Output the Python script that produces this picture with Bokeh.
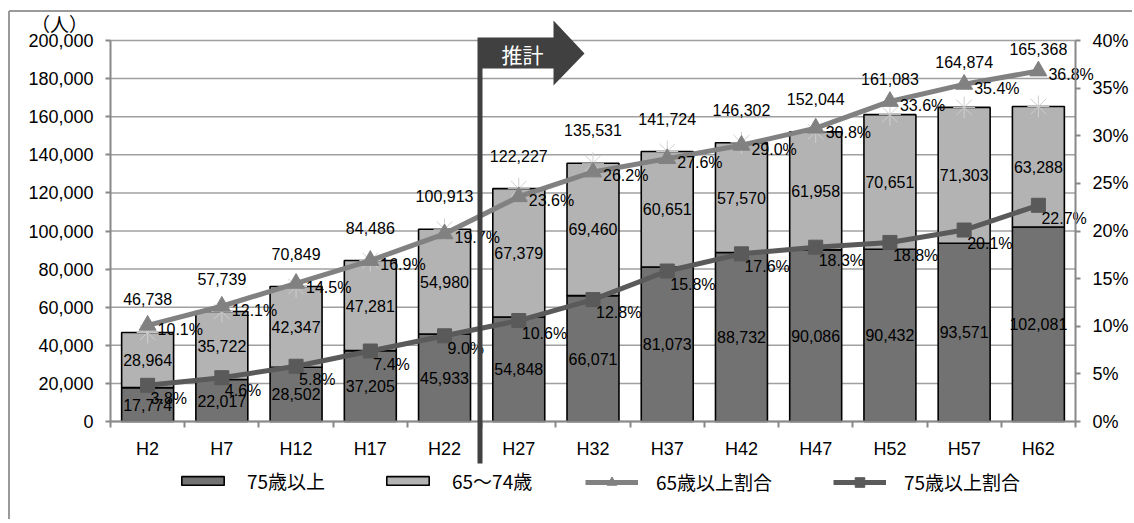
from bokeh.plotting import figure
from bokeh.models import (Range1d, LinearAxis, FixedTicker, NumeralTickFormatter, PrintfTickFormatter,
                          Legend, LegendItem, PolyAnnotation, Label)
from bokeh.embed import file_html
from bokeh.resources import INLINE
from bokeh.core.properties import value

# ---------------- data ----------------
categories = ["H2", "H7", "H12", "H17", "H22", "H27", "H32", "H37", "H42", "H47", "H52", "H57", "H62"]
age75_over = [17774, 22017, 28502, 37205, 45933, 54848, 66071, 81073, 88732, 90086, 90432, 93571, 102081]
age65_74 = [28964, 35722, 42347, 47281, 54980, 67379, 69460, 60651, 57570, 61958, 70651, 71303, 63288]
totals = [46738, 57739, 70849, 84486, 100913, 122227, 135531, 141724, 146302, 152044, 161083, 164874, 165368]
ratio65_over = [10.1, 12.1, 14.5, 16.9, 19.7, 23.6, 26.2, 27.6, 29.0, 30.8, 33.6, 35.4, 36.8]
ratio75_over = [3.8, 4.6, 5.8, 7.4, 9.0, 10.6, 12.8, 15.8, 17.6, 18.3, 18.8, 20.1, 22.7]
left_ticks = list(range(0, 200001, 20000))
right_ticks = list(range(0, 41, 5))

# ---------------- styling constants ----------------
NUM_FONT_NAME = "Liberation Sans"
JP_FONT_NAME = "Noto Sans CJK JP"
NUM_FONT = value(NUM_FONT_NAME)
DARK = "#727272"
LIGHT = "#b3b3b3"
LINE65 = "#818181"
LINE75 = "#5a5a5a"
AXIS = "#888888"
GRID = "#a0a0a0"

W, H = 1132, 519
# plot-area geometry in px: value axis 0..200000 spans y 421..40, categories span x 110..1075
PX_L, PX_R, PX_T, PX_B = 110.0, 1075.0, 40.0, 421.0
Y_MAX = 200000.0
P_MAX = 40.0
n = len(categories)
UPX = Y_MAX / (PX_B - PX_T)
PPX = P_MAX / (PX_B - PX_T)
CAT_PX = (PX_R - PX_L) / n


def px2x(px):
    return (px - PX_L) / CAT_PX - 0.5


def px2y(py):
    return (PX_B - py) * UPX


xs = list(range(n))

p = figure(width=W, height=H,
           x_range=Range1d(px2x(0), px2x(W)), y_range=Range1d(px2y(H), px2y(0)),
           output_backend="svg", toolbar_location=None,
           min_border_left=0, min_border_right=0, min_border_top=0, min_border_bottom=0)
p.extra_y_ranges = {"pct": Range1d((PX_B - H) * PPX, PX_B * PPX)}
p.outline_line_color = None
p.background_fill_color = "white"
p.border_fill_color = "white"
p.xgrid.visible = False
p.ygrid.visible = False

# outer chart border (left and top edges)
p.segment(x0=[px2x(8.5), px2x(8.5)], y0=[px2y(10.5), px2y(10.5)], x1=[px2x(8.5), px2x(W)],
          y1=[px2y(H), px2y(10.5)], line_color="#9a9a9a", line_width=2)

# horizontal grid lines between the two value axes
p.segment(x0=[-0.5] * len(left_ticks), x1=[n - 0.5] * len(left_ticks), y0=left_ticks, y1=left_ticks,
          line_color=GRID, line_width=1.5)

# left axis
ya = p.yaxis[0]
ya.ticker = FixedTicker(ticks=left_ticks)
ya.formatter = NumeralTickFormatter(format="0,0")
ya.fixed_location = -0.5
ya.bounds = (0, Y_MAX)
# right axis
ra = LinearAxis(y_range_name="pct", ticker=FixedTicker(ticks=right_ticks),
                formatter=PrintfTickFormatter(format="%d%%"), fixed_location=n - 0.5, bounds=(0, P_MAX))
p.add_layout(ra, "right")
# x axis
xa = p.xaxis[0]
xa.ticker = FixedTicker(ticks=xs, minor_ticks=[i - 0.5 for i in range(n + 1)])
xa.major_label_overrides = {i: c for i, c in enumerate(categories)}
xa.fixed_location = 0
xa.bounds = (-0.5, n - 0.5)

for ax in (ya, ra, xa):
    ax.axis_line_color = AXIS
    ax.axis_line_width = 2
    ax.major_tick_line_color = AXIS
    ax.major_tick_line_width = 2
    ax.major_tick_out = 5
    ax.major_tick_in = 0
    ax.minor_tick_line_color = None
    ax.major_label_text_font = NUM_FONT_NAME
    ax.major_label_text_font_size = "18px"
    ax.major_label_text_color = "black"
    ax.major_label_standoff = 12
xa.major_tick_line_color = None
xa.minor_tick_line_color = AXIS
xa.minor_tick_line_width = 2
xa.minor_tick_out = 6
xa.minor_tick_in = 0
xa.major_label_standoff = 11

# bars
top_stack = [a + b for a, b in zip(age75_over, age65_74)]
r75 = p.vbar(x=xs, bottom=0, top=age75_over, width=0.7, fill_color=DARK, line_color="black", line_width=1.6)
r6574 = p.vbar(x=xs, bottom=age75_over, top=top_stack, width=0.7, fill_color=LIGHT, line_color="black",
               line_width=1.6)

# faint asterisks at totals
p.scatter(x=xs, y=totals, marker="asterisk", size=22, line_color="#cfcfcf", line_width=1)

# ratio lines
l65 = p.line(x=xs, y=ratio65_over, y_range_name="pct", line_color=LINE65, line_width=5)
m65 = p.scatter(x=xs, y=ratio65_over, y_range_name="pct", marker="triangle", size=17,
                fill_color=LINE65, line_color=LINE65)
l75 = p.line(x=xs, y=ratio75_over, y_range_name="pct", line_color=LINE75, line_width=5)
m75 = p.scatter(x=xs, y=ratio75_over, y_range_name="pct", marker="square", size=14,
                fill_color=LINE75, line_color=LINE75)

# labels inside bars
lab_kw = dict(text_font=NUM_FONT, text_font_size="16px", text_color="black",
              text_baseline="middle")
p.text(x=xs, y=[v / 2 for v in age75_over], text=[f"{v:,}" for v in age75_over], text_align="center", **lab_kw)
p.text(x=xs, y=[a + b / 2 for a, b in zip(age75_over, age65_74)], text=[f"{v:,}" for v in age65_74],
       text_align="center", **lab_kw)
# totals above bars (kept clear of the 65+ ratio line)
tot_y = [max(t + 33 * UPX, r * Y_MAX / P_MAX + 22 * UPX) for t, r in zip(totals, ratio65_over)]
p.text(x=xs, y=tot_y, text=[f"{v:,}" for v in totals], text_align="center", **lab_kw)
# percentage labels
p.text(x=xs, y=[r - 4 * PPX for r in ratio65_over], y_range_name="pct", x_offset=10,
       text=[f"{v:.1f}%" for v in ratio65_over], text_align="left", **lab_kw)
p.text(x=xs, y=[r - 13 * PPX for r in ratio75_over], y_range_name="pct", x_offset=3,
       text=[f"{v:.1f}%" for v in ratio75_over], text_align="left", **lab_kw)

# 推計 marker (vertical bar + arrow) between H22 and H27
shape_px = [(477, 463), (477, 37), (553, 37), (553, 20), (584, 53), (553, 85), (553, 68), (482, 68), (482, 463)]
p.add_layout(PolyAnnotation(xs=[px2x(a) for a, b in shape_px], ys=[px2y(b) for a, b in shape_px],
                            fill_color="#404040", fill_alpha=1.0, line_color=None, level="annotation"))
p.add_layout(Label(x=px2x(522), y=px2y(53), text="推計", text_align="center", text_baseline="middle",
                   text_font=JP_FONT_NAME, text_font_size="21px", text_color="white", level="overlay"))
# unit label
p.add_layout(Label(x=px2x(59), y=px2y(23), text="（人）", text_align="center", text_baseline="middle",
                   text_font=JP_FONT_NAME, text_font_size="19px", text_color="black", level="overlay"))

# legend (four separate single-item legends, manually spaced)
legend_items = [("75歳以上", [r75], 176, 11, H - 494), ("65〜74歳", [r6574], 381, 11, H - 494),
                ("65歳以上割合", [l65, m65], 585, 24, H - 495),
                ("75歳以上割合", [l75, m75], 833, 24, H - 495)]
for label, rends, lx, gh, ly in legend_items:
    lg = Legend(items=[LegendItem(label=label, renderers=rends)], location=(lx, ly),
                orientation="horizontal", glyph_width=53, glyph_height=gh, label_standoff=18,
                padding=0, margin=0, spacing=0, border_line_color=None, background_fill_alpha=0,
                label_text_font=JP_FONT_NAME, label_text_font_size="19px", label_text_color="black",
                label_height=22)
    p.add_layout(lg)

open("out.html", "w").write(file_html(p, INLINE))
